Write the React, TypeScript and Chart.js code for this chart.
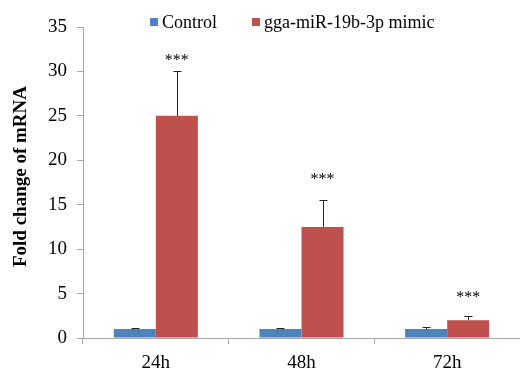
import React, { useEffect, useRef } from "react";
import { Chart, registerables } from "chart.js";

Chart.register(...registerables);

const categories = ["24h", "48h", "72h"];
const controlValues = [1, 1, 1];
const controlErrors = [0.1, 0.12, 0.25];
const mimicValues = [25, 12.5, 2.0];
const mimicErrors = [5, 3, 0.45];
const starLevels = [31.6, 18.2, 4.9];
const starLabel = "***";
const seriesNames = ["Control", "gga-miR-19b-3p mimic"];
const seriesColors = ["#4F81BD", "#C0504D"];
const yMin = 0;
const yMax = 35;
const yStep = 5;
const yTitle = "Fold change of mRNA";

const FONT = "'Liberation Serif', 'Times New Roman', serif";
const AXIS_COLOR = "#A6A6A6";

const errorBarPlugin = {
  id: "errorBars",
  afterDatasetsDraw(chart: any) {
    const ctx = chart.ctx;
    const yScale = chart.scales.y;
    const errs = [controlErrors, mimicErrors];
    const vals = [controlValues, mimicValues];
    ctx.save();
    ctx.strokeStyle = "#262626";
    ctx.lineWidth = 1;
    chart.data.datasets.forEach((_: any, di: number) => {
      const meta = chart.getDatasetMeta(di);
      meta.data.forEach((el: any, i: number) => {
        const x = Math.round(el.x) + 0.5;
        const yTop = Math.round(yScale.getPixelForValue(vals[di][i] + errs[di][i])) + 0.5;
        const yBase = el.y;
        ctx.beginPath();
        ctx.moveTo(x, yBase);
        ctx.lineTo(x, yTop);
        ctx.moveTo(x - 4, yTop);
        ctx.lineTo(x + 4, yTop);
        ctx.stroke();
      });
    });
    // significance stars
    const meta = chart.getDatasetMeta(1);
    ctx.fillStyle = "#000";
    ctx.font = `16px ${FONT}`;
    ctx.textAlign = "center";
    ctx.textBaseline = "alphabetic";
    meta.data.forEach((el: any, i: number) => {
      const y = yScale.getPixelForValue(starLevels[i]);
      ctx.fillText(starLabel, el.x, y + 7.5);
    });
    ctx.restore();
  },
};

const legendPlugin = {
  id: "customLegend",
  afterDraw(chart: any) {
    const ctx = chart.ctx;
    const area = chart.chartArea;
    ctx.save();
    ctx.font = `18px ${FONT}`;
    ctx.textBaseline = "middle";
    ctx.textAlign = "left";
    let x = area.left + 67;
    const cy = 22;
    seriesNames.forEach((name, i) => {
      ctx.fillStyle = seriesColors[i];
      ctx.fillRect(x, cy - 4, 8, 8);
      ctx.fillStyle = "#000";
      ctx.fillText(name, x + 12, cy + 1);
      x += 12 + ctx.measureText(name).width + 35;
    });
    // y-axis title
    ctx.font = `bold 19px ${FONT}`;
    ctx.textAlign = "center";
    ctx.textBaseline = "middle";
    ctx.translate(21, (area.top + area.bottom) / 2 - 6);
    ctx.rotate(-Math.PI / 2);
    ctx.fillText(yTitle, 0, 0);
    ctx.restore();
  },
};

export default function App() {
  const canvasRef = useRef<HTMLCanvasElement | null>(null);

  useEffect(() => {
    if (!canvasRef.current) return;
    const chart = new Chart(canvasRef.current, {
      type: "bar",
      data: {
        labels: categories,
        datasets: [
          {
            label: seriesNames[0],
            data: controlValues,
            backgroundColor: seriesColors[0],
            categoryPercentage: 0.577,
            barPercentage: 1,
          },
          {
            label: seriesNames[1],
            data: mimicValues,
            backgroundColor: seriesColors[1],
            categoryPercentage: 0.577,
            barPercentage: 1,
          },
        ],
      },
      options: {
        responsive: false,
        animation: false,
        layout: { padding: { top: 27, right: 0, bottom: 0, left: 0 } },
        plugins: {
          legend: { display: false },
          tooltip: { enabled: false },
        },
        scales: {
          x: {
            grid: {
              drawOnChartArea: false,
              drawTicks: true,
              tickLength: 6,
              color: AXIS_COLOR,
              offset: true,
            },
            border: { color: AXIS_COLOR },
            ticks: {
              color: "#000",
              font: { family: FONT, size: 19 },
              padding: 8,
            },
            afterFit: (s: any) => {
              s.height = 31;
            },
          },
          y: {
            min: yMin,
            max: yMax,
            ticks: {
              stepSize: yStep,
              color: "#000",
              font: { family: FONT, size: 19 },
              padding: 10,
            },
            grid: {
              drawOnChartArea: false,
              drawTicks: true,
              tickLength: 6,
              color: AXIS_COLOR,
            },
            border: { color: AXIS_COLOR },
            title: { display: false },
            afterFit: (s: any) => {
              s.width = 83;
            },
          },
        },
      },
      plugins: [errorBarPlugin, legendPlugin],
    } as any);
    return () => chart.destroy();
  }, []);

  return (
    <canvas
      ref={canvasRef}
      width={520}
      height={369}
      style={{ position: "absolute", left: 0, top: 0, display: "block", background: "#fff" }}
    />
  );
}
